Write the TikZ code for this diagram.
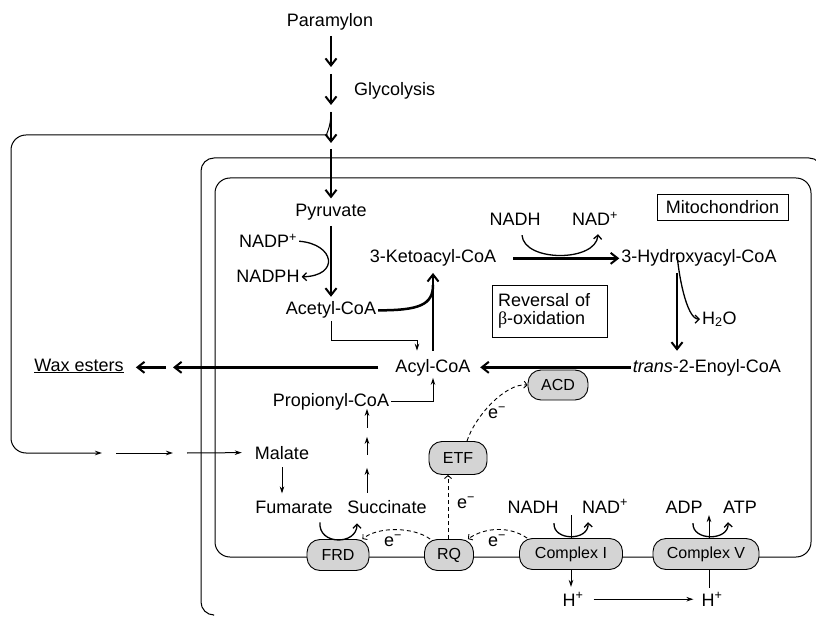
\documentclass[tikz,border=0pt]{standalone}
\usepackage{fontspec}
\setmainfont{Liberation Sans}
\newfontfamily\symfont{Liberation Serif}
\usepackage{tikz}
\usetikzlibrary{arrows.meta,calc}
\definecolor{MembGray}{HTML}{D4D4D4}
\tikzset{
  lbl/.style={font=\fontsize{18}{18.5}\selectfont,inner sep=2pt},
  cplx/.style={draw,fill=MembGray,line width=0.9pt,rounded corners=13pt,
    minimum height=31pt,inner sep=0pt,font=\fontsize{16}{18}\selectfont},
  tag/.style={draw,line width=0.8pt,font=\fontsize{18}{18.5}\selectfont},
  memb/.style={line width=1pt},
  flow/.style={line width=2.5pt,-{Straight Barb[length=7pt,width=11pt,line width=2pt]}},
  flowline/.style={line width=2.5pt},
  minor/.style={line width=1pt,-{Stealth[length=7pt,width=4.5pt]}},
  cofac/.style={line width=1.3pt,-{Straight Barb[length=4pt,width=8pt]}},
  etrans/.style={line width=0.9pt,dash pattern=on 4pt off 3pt,
    -{Straight Barb[length=3pt,width=7pt]}}
}

\begin{document}
\begin{tikzpicture}[x=1pt,y=-1pt]
  \useasboundingbox (0,0) rectangle (816,617);
  % membranes
  \draw[memb,rounded corners=13pt] (213,615) -| (201,158) -| (822,330);
  \draw[memb,rounded corners=15pt] (215,178) rectangle (811,557);

  % metabolites
  \node[lbl,anchor=base] (paramylon) at (330,27) {Paramylon};
  \node[lbl,anchor=base west] (glyco) at (352,96) {Glycolysis};
  \node[lbl,anchor=base] (pyruvate) at (331,217) {Pyruvate};
  \node[lbl,anchor=base] (nadp) at (268,248) {NADP\textsuperscript{+}};
  \node[lbl,anchor=base] (nadph) at (268,283) {NADPH};
  \node[lbl,anchor=base] (acetyl) at (331,315) {Acetyl-CoA};
  \node[lbl,anchor=base] (keto) at (433,263) {3-Ketoacyl-CoA};
  \node[lbl,anchor=base] (hydroxy) at (699,263) {3-Hydroxyacyl-CoA};
  \node[lbl,anchor=base] (nadhT) at (515,226) {NADH};
  \node[lbl,anchor=base] (nadT) at (595,226) {NAD\textsuperscript{+}};
  \node[lbl,anchor=base west] (water) at (700,324) {H\textsubscript{2}O};
  \node[lbl,anchor=base east] (enoyl) at (783,372) {\textit{trans}-2-Enoyl-CoA};
  \node[lbl,anchor=base] (acyl) at (433,372) {Acyl-CoA};
  \node[lbl,anchor=base] (wax) at (79,371) {\underline{Wax esters}};
  \node[lbl,anchor=base] (propionyl) at (331,406) {Propionyl-CoA};
  \node[lbl,anchor=base] (malate) at (282,459) {Malate};
  \node[lbl,anchor=base] (fumarate) at (294,513) {Fumarate};
  \node[lbl,anchor=base] (succinate) at (387,513) {Succinate};
  \node[lbl,anchor=base] (nadhI) at (533,513) {NADH};
  \node[lbl,anchor=base] (nadI) at (605,513) {NAD\textsuperscript{+}};
  \node[lbl,anchor=base] (adp) at (684,513) {ADP};
  \node[lbl,anchor=base] (atp) at (740,513) {ATP};
  \node[lbl,anchor=base] (hin) at (573,606) {H\textsuperscript{+}};
  \node[lbl,anchor=base] (hout) at (712,606) {H\textsuperscript{+}};

  % boxes
  \node[tag,minimum width=131pt,minimum height=26pt,inner sep=0pt] (mito) at (722.5,207) {Mitochondrion};
  \node[tag,align=left,text width=104pt,inner xsep=5.5pt,inner ysep=8.3pt] (reversal) at (550,311)
    {Reversal of\\{\symfont β}-oxidation};

  % membrane complexes
  \node[cplx,minimum width=62pt] (frd) at (338,555) {FRD};
  \node[cplx,minimum width=49pt] (rq) at (449,555) {RQ};
  \node[cplx,minimum width=103pt] (cI) at (571,554) {Complex I};
  \node[cplx,minimum width=106pt] (cV) at (706,554) {Complex V};
  \node[cplx,minimum width=58pt,minimum height=33pt] (etf) at (458,458) {ETF};
  \node[cplx,minimum width=60pt,minimum height=30pt] (acd) at (558,385) {ACD};

  % electrons
  \node[lbl,anchor=base] (e1) at (393,546) {e\textsuperscript{−}};
  \node[lbl,anchor=base] (e2) at (497,546) {e\textsuperscript{−}};
  \node[lbl,anchor=base] (e3) at (466,508) {e\textsuperscript{−}};
  \node[lbl,anchor=base] (e4) at (497,418) {e\textsuperscript{−}};

  % glycolysis
  \coordinate (gB) at (331,67);
  \coordinate (gC) at (331,74);
  \coordinate (gD) at (331,105);
  \coordinate (gE) at (331,112);
  \coordinate (gF) at (331,143);
  \coordinate (gG) at (331,149);
  \draw[flow,shorten <=3pt] (paramylon.south -| gB) -- (gB);
  \draw[flow] (gC) -- (gD);
  \draw[flow] (gE) -- (gF);
  \draw[flow,shorten >=4pt] (gG) -- (pyruvate.north);
  \draw[flow,shorten <=3pt,shorten >=3pt] (pyruvate.south) -- (acetyl.north);
  \draw[cofac] (nadp.east) .. controls (335,244) and (340,276) .. (nadph.east);

  % cytosol to malate
  \coordinate (cornerNW) at (11,135);
  \coordinate (cornerSW) at (11,453);
  \coordinate (mA) at (102,453);
  \coordinate (mB) at (116,453);
  \coordinate (mC) at (173,453);
  \coordinate (mD) at (187,453);
  \draw[minor,rounded corners=15pt] (gE) .. controls +(0,17) and +(13,0) .. ([shift={(-19,23)}]gE)
    -- (cornerNW) -- (cornerSW) -- (mA);
  \draw[minor] (mB) -- (mC);
  \draw[minor,shorten >=11pt] (mD) -- (malate.west);

  % reversal of beta-oxidation
  \draw[flowline] (acetyl.east) .. controls +(41,0) and +(0,20) .. ([yshift=-16pt]keto.south);
  \draw[flow,shorten <=6pt,shorten >=4pt] (acyl.north) -- (keto.south);
  \draw[flow,shorten <=15pt] (keto.east) -- (hydroxy.west);
  \draw[cofac] ([shift={(7,7)}]nadhT.south) .. controls +(2,27) and +(-2,28) .. ([shift={(3,6)}]nadT.south);
  \draw[flow,shorten >=6pt] ([shift={(-22,4)}]hydroxy.south) coordinate (hx) -- (hx |- enoyl.north);
  \draw[cofac] ([yshift=20pt]hx) .. controls +(1,18) and +(-14,0) .. (water.west);
  \draw[flow,shorten >=7.5pt] (enoyl.west) -- (acyl.east);
  \draw[minor] (acetyl.south) |- ([shift={(-16,-16)}]acyl.north) -- ([shift={(-16,-6)}]acyl.north);
  \draw[minor] (propionyl.east) -| (acyl.south);

  % wax esters
  \draw[flow,shorten <=15pt] (acyl.west) -- (acyl.west -| 173,0);
  \draw[flow,shorten >=10pt] (acyl.west -| 166,0) -- (acyl.west -| wax.east);

  % malate to propionyl-CoA
  \draw[minor,shorten <=6pt,shorten >=5pt] (malate.south) -- (malate.south |- fumarate.north);
  \draw[cofac] ([shift={(26,7)}]fumarate.south) .. controls +(-2,23) and +(0,22) .. ([shift={(-30,8)}]succinate.south);
  \draw[minor] ([shift={(-20,-5)}]succinate.north) coordinate (sk) -- ++(0,-25);
  \draw[minor] ([yshift=38pt]sk) -- ++(0,-18);
  \draw[minor] ([yshift=65pt]sk) -- ++(0,-19);

  % electron transfer
  \draw[etrans] ([xshift=6pt]rq.north west) .. controls +(-16,-12) and +(16,-13) .. ([xshift=-7pt]frd.north east);
  \draw[etrans] ([xshift=8pt]cI.north west) .. controls +(-17,-12) and +(17,-12) .. ([xshift=-6pt]rq.north east);
  \draw[etrans] ([xshift=-1pt]rq.north) -- ([xshift=-1pt]rq.north |- etf.south);
  \draw[etrans] ([xshift=9pt]etf.north) .. controls +(8,-25) and +(-22,-2) .. (acd.west);

  % complex I and complex V
  \draw[cofac] ([shift={(21,8)}]nadhI.south) .. controls +(-1,18) and +(1,19) .. ([shift={(-17,7)}]nadI.south);
  \draw[cofac] ([shift={(9,8)}]adp.south) .. controls +(-1,18) and +(1,19) .. ([shift={(-12,7)}]atp.south);
  \draw[memb] ([yshift=23pt]cI.north) -- (cI.north);
  \draw[minor] (cI.south) -- ([yshift=-17pt]cI.south);
  \draw[memb] ([xshift=3pt]cV.south) -- ([xshift=3pt,yshift=-18pt]cV.south);
  \draw[minor] ([xshift=3pt]cV.north) -- ([xshift=3pt,yshift=23pt]cV.north);
  \draw[minor,shorten <=8pt,shorten >=6pt] (hin) -- (hout);
\end{tikzpicture}
\end{document}
